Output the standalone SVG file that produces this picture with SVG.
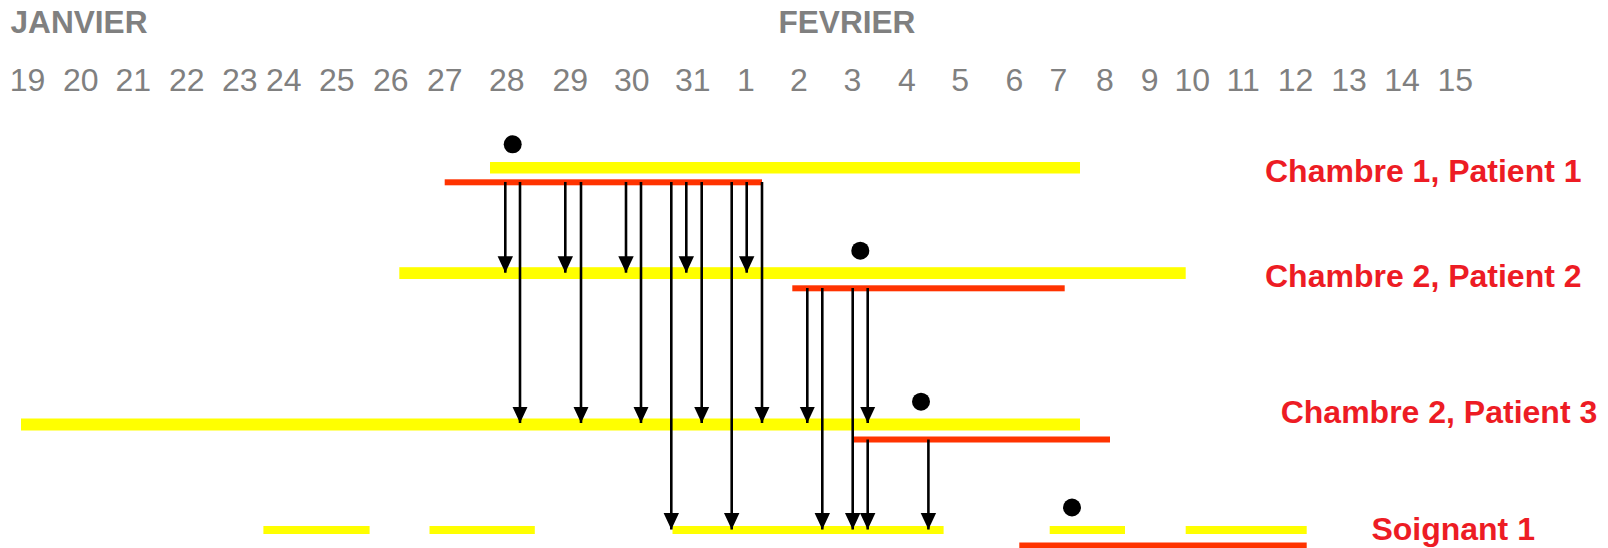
<svg xmlns="http://www.w3.org/2000/svg" width="1608" height="548" viewBox="0 0 1608 548">
<style>
.month{font-family:"Liberation Sans",Arial,sans-serif;font-weight:bold;font-size:31.6px;fill:#808080}
.day{font-family:"Liberation Sans",Arial,sans-serif;font-size:32px;fill:#808080}
.lbl{font-family:"Liberation Sans",Arial,sans-serif;font-weight:bold;font-size:32px;fill:#ED1C24}
.y{fill:#FFFF00}
.r{fill:#FF3300}
.dot{fill:#000}
.c line{stroke:#000;stroke-width:2.6;marker-end:url(#ah)}
</style>
<defs>
<marker id="ah" markerUnits="userSpaceOnUse" markerWidth="17" markerHeight="17" viewBox="0 -8.5 17 17" refX="16.5" refY="0" orient="auto">
<path d="M0,-7.7 L16.5,0 L0,7.7 z" fill="#000"/>
</marker>
</defs>
<rect width="1608" height="548" fill="#fff"/>
<g id="calendar">
<text class="month" x="10.5" y="33.3">JANVIER</text>
<text class="month" x="778.5" y="33.3">FEVRIER</text>
<text class="day" x="9.8" y="90.5">19</text>
<text class="day" x="63" y="90.5">20</text>
<text class="day" x="115.5" y="90.5">21</text>
<text class="day" x="169" y="90.5">22</text>
<text class="day" x="222" y="90.5">23</text>
<text class="day" x="266" y="90.5">24</text>
<text class="day" x="319" y="90.5">25</text>
<text class="day" x="373" y="90.5">26</text>
<text class="day" x="427" y="90.5">27</text>
<text class="day" x="489" y="90.5">28</text>
<text class="day" x="552.5" y="90.5">29</text>
<text class="day" x="614" y="90.5">30</text>
<text class="day" x="675" y="90.5">31</text>
<text class="day" x="737" y="90.5">1</text>
<text class="day" x="790" y="90.5">2</text>
<text class="day" x="843.5" y="90.5">3</text>
<text class="day" x="898" y="90.5">4</text>
<text class="day" x="951.3" y="90.5">5</text>
<text class="day" x="1005.5" y="90.5">6</text>
<text class="day" x="1049.5" y="90.5">7</text>
<text class="day" x="1096" y="90.5">8</text>
<text class="day" x="1140.7" y="90.5">9</text>
<text class="day" x="1174.5" y="90.5">10</text>
<text class="day" x="1226.5" y="90.5">11</text>
<text class="day" x="1277.8" y="90.5">12</text>
<text class="day" x="1331.3" y="90.5">13</text>
<text class="day" x="1384.2" y="90.5">14</text>
<text class="day" x="1437.5" y="90.5">15</text>
</g>
<g id="chambre1-patient1">
<circle class="dot" cx="512.7" cy="144.3" r="9"/>
<rect class="y" x="490" y="162" width="590" height="11.5"/>
<rect class="r" x="444.7" y="179.3" width="317.3" height="6"/>
<text class="lbl" x="1265" y="181.7">Chambre 1, Patient 1</text>
</g>
<g id="chambre2-patient2">
<circle class="dot" cx="860.3" cy="250.7" r="9"/>
<rect class="y" x="399.3" y="267.2" width="786.4" height="11.8"/>
<rect class="r" x="792.3" y="285.3" width="272.4" height="6"/>
<text class="lbl" x="1265" y="286.7">Chambre 2, Patient 2</text>
</g>
<g id="chambre2-patient3">
<circle class="dot" cx="921" cy="401.7" r="9"/>
<rect class="y" x="21" y="418.5" width="1059" height="12"/>
<rect class="r" x="853.8" y="436.5" width="256.2" height="6"/>
<text class="lbl" x="1280.7" y="422.7">Chambre 2, Patient 3</text>
</g>
<g id="soignant1">
<circle class="dot" cx="1072" cy="507.5" r="9"/>
<rect class="y" x="263.4" y="526" width="106.2" height="8"/>
<rect class="y" x="429.5" y="526" width="105.3" height="8"/>
<rect class="y" x="672.5" y="526" width="271.1" height="8"/>
<rect class="y" x="1049.7" y="526" width="75.3" height="8"/>
<rect class="y" x="1185.7" y="526" width="121" height="8"/>
<rect class="r" x="1019.3" y="542.5" width="287.4" height="6"/>
<text class="lbl" x="1371.4" y="540">Soignant 1</text>
</g>
<g id="connectors" class="c">
<line x1="505.3" y1="182" x2="505.3" y2="272.7"/>
<line x1="520" y1="182" x2="520" y2="423"/>
<line x1="565.3" y1="182" x2="565.3" y2="272.7"/>
<line x1="581" y1="182" x2="581" y2="423"/>
<line x1="626" y1="182" x2="626" y2="272.7"/>
<line x1="641" y1="182" x2="641" y2="423"/>
<line x1="671.3" y1="182" x2="671.3" y2="529.5"/>
<line x1="686.3" y1="182" x2="686.3" y2="272.7"/>
<line x1="701.7" y1="182" x2="701.7" y2="423"/>
<line x1="731.7" y1="182" x2="731.7" y2="529.5"/>
<line x1="746.7" y1="182" x2="746.7" y2="272.7"/>
<line x1="762" y1="182" x2="762" y2="423"/>
<line x1="807.3" y1="288" x2="807.3" y2="423"/>
<line x1="822.3" y1="288" x2="822.3" y2="529.5"/>
<line x1="852.7" y1="288" x2="852.7" y2="529.5"/>
<line x1="867.7" y1="288" x2="867.7" y2="423"/>
<line x1="867.7" y1="439.5" x2="867.7" y2="529.5"/>
<line x1="928.4" y1="439.5" x2="928.4" y2="529.5"/>
</g>
</svg>
